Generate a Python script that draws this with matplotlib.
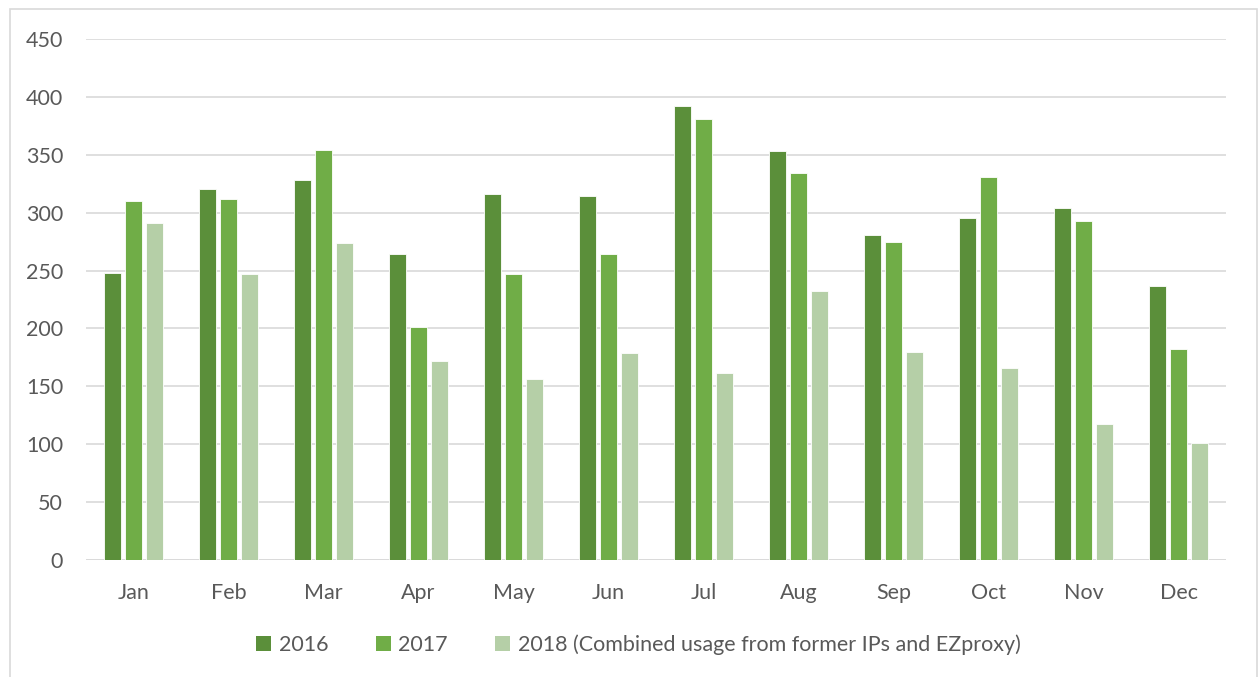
import numpy as np
import matplotlib.pyplot as plt
from matplotlib.patches import Rectangle, Patch

months = ['Jan', 'Feb', 'Mar', 'Apr', 'May', 'Jun', 'Jul', 'Aug', 'Sep', 'Oct', 'Nov', 'Dec']
usage_2016 = [248, 320, 328, 264, 316, 314, 392, 353, 281, 295, 304, 237]
usage_2017 = [310, 312, 354, 201, 247, 264, 381, 334, 275, 331, 293, 182]
usage_2018 = [291, 247, 274, 172, 156, 179, 162, 232, 180, 166, 118, 101]
labels = ['2016', '2017', '2018 (Combined usage from former IPs and EZproxy)']
colors = ['#5B8F3A', '#70AD47', '#B5CFA7']

plt.rcParams['font.family'] = ['Lato', 'DejaVu Sans']
text_color = '#595959'

fig = plt.figure(figsize=(12.59, 6.77), dpi=100)
ax = fig.add_axes([0.0683, 0.1724, 0.9055, 0.7704])

x = np.arange(len(months))
step = 0.221
width = 0.185
series = [usage_2016, usage_2017, usage_2018]
for i, vals in enumerate(series):
    ax.bar(x + (i - 1) * step, vals, width=width, color=colors[i],
           edgecolor='white', linewidth=0.6, zorder=3)

ax.set_xlim(-0.5, len(months) - 0.5)
ax.set_ylim(0, 450)
ax.set_yticks(range(0, 451, 50))
ax.set_xticks(x)
ax.set_xticklabels(months)
ax.grid(axis='y', color='#D9D9D9', linewidth=1.2, zorder=0)
for s in ax.spines.values():
    s.set_visible(False)
ax.axhline(0, color='#D9D9D9', linewidth=1.2, zorder=2)
ax.tick_params(axis='both', length=0, labelsize=15.5, colors=text_color)
ax.tick_params(axis='y', pad=16.5)
ax.tick_params(axis='x', pad=16)

handles = [Patch(facecolor=c, edgecolor='none') for c in colors]
fig.legend(handles, labels, loc='center', bbox_to_anchor=(0.507, 0.047), ncol=3,
           frameon=False, fontsize=15.5, labelcolor=text_color,
           handlelength=0.7, handleheight=0.7, handletextpad=0.35, columnspacing=2.2)

# light outer border of the chart area
fig.patches.append(Rectangle((10 / 1259, -0.01), 1247 / 1259, 1 - 9 / 677 + 0.01,
                             transform=fig.transFigure, fill=False,
                             edgecolor='#D9D9D9', linewidth=1.2))

fig.savefig('out.png', dpi=100)
